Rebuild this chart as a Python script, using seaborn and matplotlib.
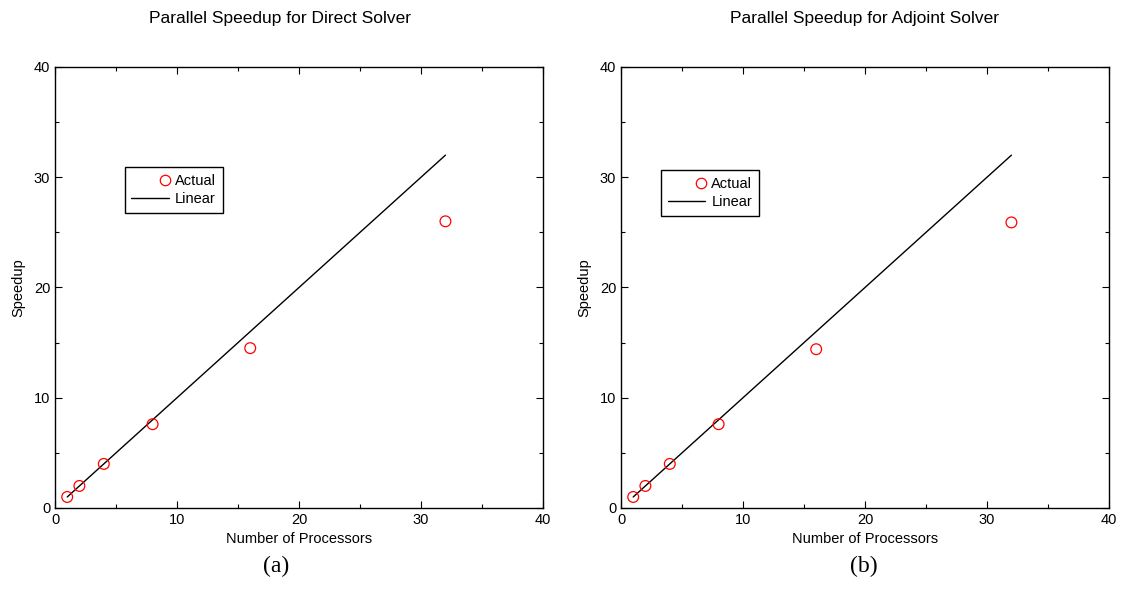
import numpy as np
import pandas as pd
import matplotlib
matplotlib.use("Agg")
import matplotlib.pyplot as plt
from matplotlib.lines import Line2D
from matplotlib.legend_handler import HandlerLine2D
import seaborn as sns

# data
processors = [1, 2, 4, 8, 16, 32]
direct_speedup = [1.0, 2.0, 4.0, 7.6, 14.5, 26.0]
adjoint_speedup = [1.0, 2.0, 4.0, 7.6, 14.4, 25.9]
linear_x = [1, 32]
linear_y = [1, 32]

titles = ["Parallel Speedup for Direct Solver", "Parallel Speedup for Adjoint Solver"]
captions = ["(a)", "(b)"]


# gnuplot-style key: the circle sits at the right end of the sample area
class RightMarker(HandlerLine2D):
    def get_xdata(self, legend, xdescent, ydescent, width, height, fontsize):
        pos = np.array([-xdescent + width * 0.88])
        return pos, pos


sns.set_theme(style="ticks")
plt.rcParams["font.family"] = ["Liberation Sans", "DejaVu Sans"]
plt.rcParams["xtick.direction"] = "in"
plt.rcParams["ytick.direction"] = "in"
plt.rcParams["text.color"] = "black"
plt.rcParams["axes.labelcolor"] = "black"
plt.rcParams["xtick.labelcolor"] = "black"
plt.rcParams["ytick.labelcolor"] = "black"

fig = plt.figure(figsize=(11.25, 5.92), dpi=100)
positions = [[0.0489, 0.1419, 0.4338, 0.745], [0.552, 0.1419, 0.4338, 0.745]]
legend_anchor = [(0.143, 0.773), (0.082, 0.766)]
title_x = [280 / 1125, 865 / 1125]
caption_x = [276 / 1125, 864 / 1125]

for i, speed in enumerate([direct_speedup, adjoint_speedup]):
    ax = fig.add_axes(positions[i])
    df = pd.DataFrame({"procs": processors, "speedup": speed})
    lin = pd.DataFrame({"procs": linear_x, "speedup": linear_y})
    sns.scatterplot(data=df, x="procs", y="speedup", ax=ax, s=60,
                    facecolors="none", edgecolor="red", linewidth=0.9,
                    zorder=3, legend=False)
    sns.lineplot(data=lin, x="procs", y="speedup", ax=ax, color="black",
                 linewidth=1.0, legend=False)
    ax.set_xlim(0, 40)
    ax.set_ylim(0, 40)
    ax.set_xticks([0, 10, 20, 30, 40])
    ax.set_yticks([0, 10, 20, 30, 40])
    ax.set_xticks([5, 15, 25, 35], minor=True)
    ax.set_yticks([5, 15, 25, 35], minor=True)
    ax.tick_params(which="both", top=True, right=True, labelsize=10.5,
                   color="black", width=0.8)
    ax.tick_params(which="major", length=5)
    ax.tick_params(which="minor", length=3)
    for sp in ax.spines.values():
        sp.set_color("black")
        sp.set_linewidth(1.0)
    ax.set_xlabel("Number of Processors", fontsize=10.5, labelpad=4)
    ax.set_ylabel("Speedup", fontsize=10.5, labelpad=6)

    h_actual = Line2D([], [], linestyle="none", marker="o", markersize=7.5,
                      markerfacecolor="none", markeredgecolor="red",
                      markeredgewidth=0.9)
    h_linear = Line2D([], [], color="black", linewidth=1.0)
    leg = ax.legend([h_actual, h_linear], ["Actual", "Linear"],
                    handler_map={h_actual: RightMarker(numpoints=2)},
                    loc="upper left", bbox_to_anchor=legend_anchor[i],
                    fontsize=10.5, frameon=True, fancybox=False,
                    edgecolor="black", framealpha=1, handlelength=2.6,
                    handletextpad=0.4, borderpad=0.45, labelspacing=0.3,
                    borderaxespad=0)
    leg.get_frame().set_linewidth(1.0)
    fig.text(title_x[i], 1 - 18 / 592, titles[i], ha="center", va="center",
             fontsize=12.5)
    fig.text(caption_x[i], 0.025, captions[i], ha="center", va="bottom",
             fontsize=17, family=["Liberation Serif", "DejaVu Serif"])

fig.savefig("out.png", dpi=100)
